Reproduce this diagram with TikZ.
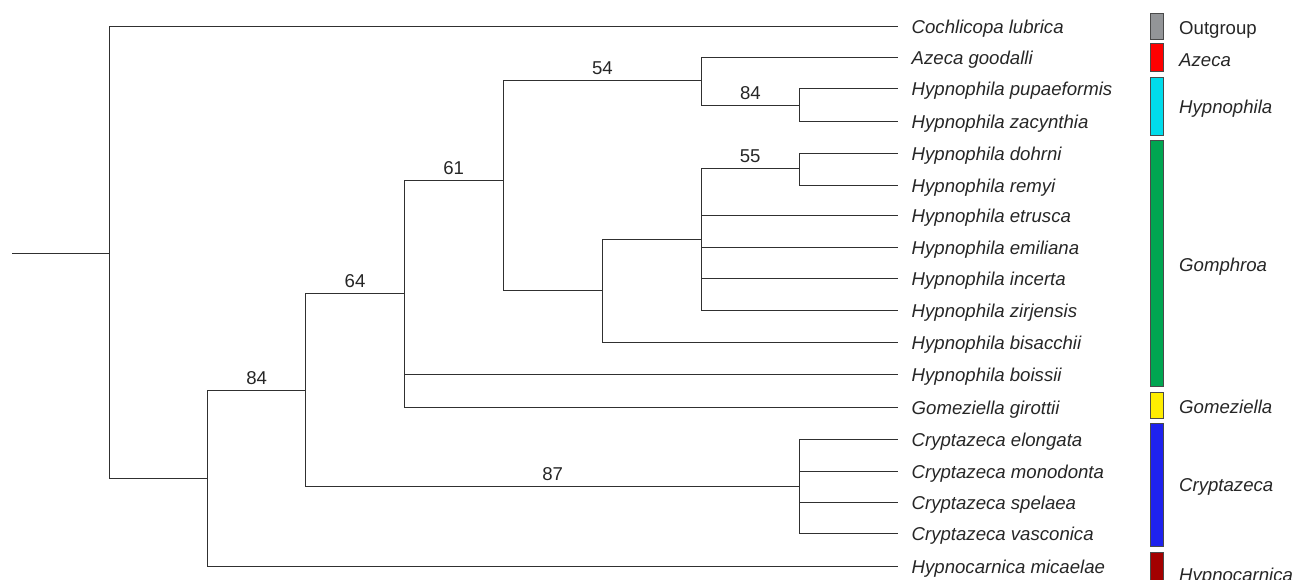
\documentclass[tikz,border=0pt]{standalone}
\usepackage{fontspec}
\setmainfont{Liberation Sans}
\definecolor{ink}{HTML}{303030}
\definecolor{txt}{HTML}{262626}
\definecolor{bardraw}{HTML}{4A4A4A}
\definecolor{cOut}{HTML}{939598}
\definecolor{cAze}{HTML}{FF0000}
\definecolor{cHyp}{HTML}{00DCEB}
\definecolor{cGom}{HTML}{00A651}
\definecolor{cGzl}{HTML}{FFEE00}
\definecolor{cCry}{HTML}{1E22EE}
\definecolor{cHcn}{HTML}{A30000}
\begin{document}
\begin{tikzpicture}[x=1pt,y=-1pt,
  br/.style={draw=ink, line width=1pt},
  leaf/.style={anchor=west, inner xsep=13.5pt, inner ysep=0pt, text height=14pt, text depth=0pt,
    font=\fontsize{18.6}{20}\selectfont\itshape, text=txt},
  sup/.style={font=\fontsize{18.6}{20}\selectfont, text=txt, anchor=base, inner sep=0pt, yshift=6pt},
  bar/.style={draw=bardraw, line width=0.8pt},
  leg/.style={anchor=base west, inner sep=0pt, font=\fontsize{18.6}{20}\selectfont\itshape, text=txt}]
\useasboundingbox (0,0) rectangle (1303,579);

% internal nodes
\coordinate (stem) at (12,253);
\coordinate (root) at (109.5,253);
\coordinate (n84) at (207.5,478.3);
\coordinate (n64) at (305.7,390.3);
\coordinate (n61) at (404.3,293.3);
\coordinate (nCr) at (799.5,486.7);
\coordinate (n54) at (503,180.3);
\coordinate (nAz) at (701.7,80.7);
\coordinate (nHy) at (799,105.3);
\coordinate (nBi) at (602.3,290.5);
\coordinate (nGo) at (701.3,239);
\coordinate (nDR) at (799,168.3);

% leaves
\node[leaf] (l0)  at (898,26)    {Cochlicopa lubrica};
\node[leaf] (l1)  at (898,57.3)  {Azeca goodalli};
\node[leaf] (l2)  at (898,88.8)  {Hypnophila pupaeformis};
\node[leaf] (l3)  at (898,121.7) {Hypnophila zacynthia};
\node[leaf] (l4)  at (898,153)   {Hypnophila dohrni};
\node[leaf] (l5)  at (898,185.7) {Hypnophila remyi};
\node[leaf] (l6)  at (898,215.8) {Hypnophila etrusca};
\node[leaf] (l7)  at (898,247.3) {Hypnophila emiliana};
\node[leaf] (l8)  at (898,278.7) {Hypnophila incerta};
\node[leaf] (l9)  at (898,310.3) {Hypnophila zirjensis};
\node[leaf] (l10) at (898,342.3) {Hypnophila bisacchii};
\node[leaf] (l11) at (898,374)   {Hypnophila boissii};
\node[leaf] (l12) at (898,407)   {Gomeziella girottii};
\node[leaf] (l13) at (898,439.3) {Cryptazeca elongata};
\node[leaf] (l14) at (898,471)   {Cryptazeca monodonta};
\node[leaf] (l15) at (898,502)   {Cryptazeca spelaea};
\node[leaf] (l16) at (898,533.3) {Cryptazeca vasconica};
\node[leaf] (l17) at (898,566.7) {Hypnocarnica micaelae};

% branches
\draw[br] (stem) -- (root);
\draw[br] (root) |- (l0.west);
\draw[br] (root) |- (n84);
\draw[br] (n84) |- node[sup,pos=0.75]{84} (n64);
\draw[br] (n84) |- (l17.west);
\draw[br] (n64) |- node[sup,pos=0.75]{64} (n61);
\draw[br] (n64) |- node[sup,pos=0.75]{87} (nCr);
\draw[br] (n61) |- node[sup,pos=0.75]{61} (n54);
\draw[br] (n61) |- (l11.west);
\draw[br] (n61) |- (l12.west);
\draw[br] (n54) |- node[sup,pos=0.75]{54} (nAz);
\draw[br] (n54) |- (nBi);
\draw[br] (nAz) |- (l1.west);
\draw[br] (nAz) |- node[sup,pos=0.75]{84} (nHy);
\draw[br] (nHy) |- (l2.west);
\draw[br] (nHy) |- (l3.west);
\draw[br] (nBi) |- (nGo);
\draw[br] (nBi) |- (l10.west);
\draw[br] (nGo) |- node[sup,pos=0.75]{55} (nDR);
\draw[br] (nGo) |- (l6.west);
\draw[br] (nGo) |- (l7.west);
\draw[br] (nGo) |- (l8.west);
\draw[br] (nGo) |- (l9.west);
\draw[br] (nDR) |- (l4.west);
\draw[br] (nDR) |- (l5.west);
\draw[br] (nCr) |- (l13.west);
\draw[br] (nCr) |- (l14.west);
\draw[br] (nCr) |- (l15.west);
\draw[br] (nCr) |- (l16.west);

% legend bars
\draw[bar, fill=cOut] (1150.5,13.3) rectangle (1163,39);
\draw[bar, fill=cAze] (1150.5,43.3) rectangle (1163,71.7);
\draw[bar, fill=cHyp] (1150.5,77.3) rectangle (1163,135.7);
\draw[bar, fill=cGom] (1150.5,140.7) rectangle (1163,386.7);
\draw[bar, fill=cGzl] (1150.5,392.3) rectangle (1163,418.3);
\draw[bar, fill=cCry] (1150.5,423.3) rectangle (1163,546.7);
\draw[bar, fill=cHcn] (1150.5,552.3) rectangle (1163,590);

% legend labels
\node[leg, font=\fontsize{18.6}{20}\selectfont] (gOut) at (1179,34.8) {Outgroup};
\node[leg] (gAze) at (1179,66.7) {Azeca};
\node[leg] (gHyp) at (1179,113.3) {Hypnophila};
\node[leg] (gGom) at (1179,271.5) {Gomphroa};
\node[leg] (gGzl) at (1179,413.3) {Gomeziella};
\node[leg] (gCry) at (1179,491.7) {Cryptazeca};
\node[leg] (gHcn) at (1179,581.5) {Hypnocarnica};
\end{tikzpicture}
\end{document}
